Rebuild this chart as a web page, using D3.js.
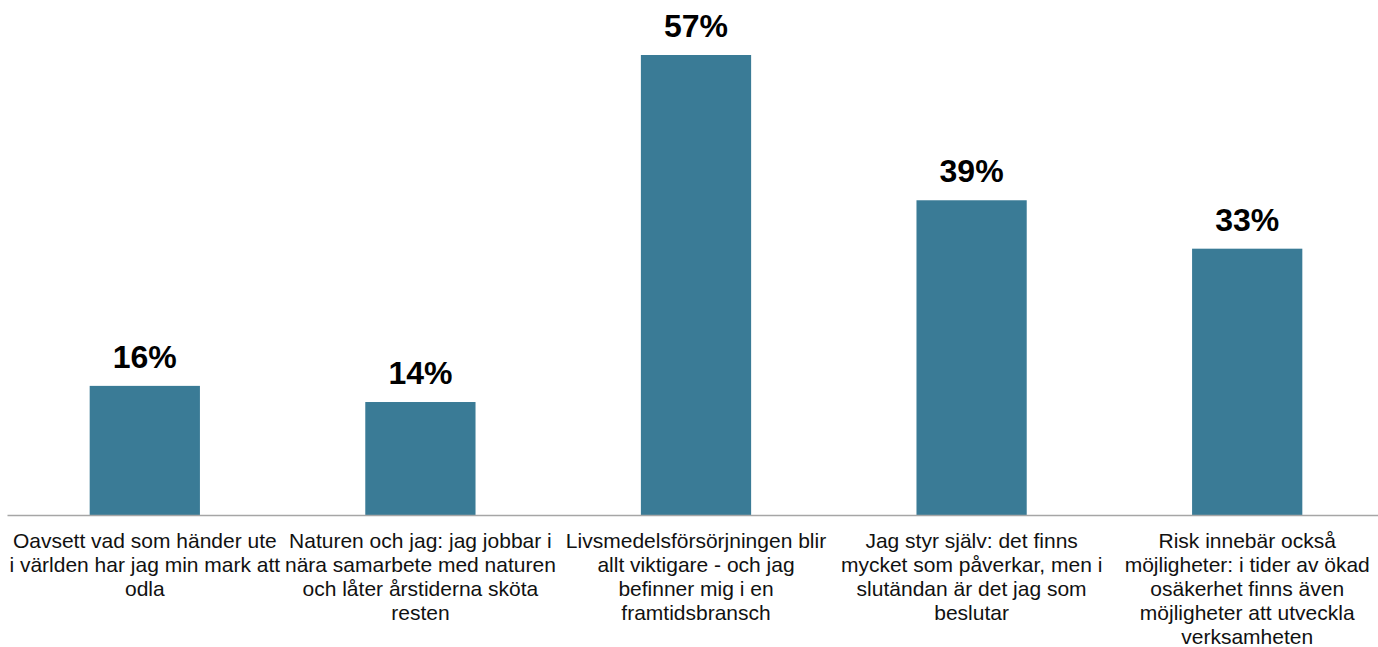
<!DOCTYPE html>
<html>
<head>
<meta charset="utf-8">
<script src="https://cdn.jsdelivr.net/npm/d3@7"></script>
<style>
  body { margin: 0; background: #fff; }
  svg { display: block; font-family: "Liberation Sans", Arial, sans-serif; }
</style>
</head>
<body>
<svg id="chart"></svg>
<script>
// categories, pre-split into the lines shown under each bar
var categories = [
  ["Oavsett vad som händer ute", "i världen har jag min mark att", "odla"],
  ["Naturen och jag: jag jobbar i", "nära samarbete med naturen", "och låter årstiderna sköta", "resten"],
  ["Livsmedelsförsörjningen blir", "allt viktigare - och jag", "befinner mig i en", "framtidsbransch"],
  ["Jag styr själv: det finns", "mycket som påverkar, men i", "slutändan är det jag som", "beslutar"],
  ["Risk innebär också", "möjligheter: i tider av ökad", "osäkerhet finns även", "möjligheter att utveckla", "verksamheten"]
];
var values = [16, 14, 57, 39, 33];   // procent

var width = 1378, height = 647;
var margin = {top: 55, right: -7, bottom: 132, left: 7};
var barColor = "#3a7b96";

var svg = d3.select("#chart")
  .attr("width", width)
  .attr("height", height);

var keys = d3.range(values.length);

var xScale = d3.scaleBand()
  .domain(keys)
  .range([margin.left, width - margin.right])
  .paddingInner(0.6)
  .paddingOuter(0.3);

var yScale = d3.scaleLinear()
  .domain([0, 57])
  .range([height - margin.bottom, margin.top]);

// bars
svg.append("g")
  .selectAll("rect")
  .data(values)
  .enter()
  .append("rect")
  .attr("x", function(d, i) { return xScale(i); })
  .attr("y", function(d) { return yScale(d); })
  .attr("width", xScale.bandwidth())
  .attr("height", function(d) { return yScale(0) - yScale(d); })
  .attr("fill", barColor);

// value labels
svg.append("g")
  .selectAll("text")
  .data(values)
  .enter()
  .append("text")
  .attr("x", function(d, i) { return xScale(i) + xScale.bandwidth() / 2; })
  .attr("y", function(d) { return yScale(d) - 18; })
  .attr("text-anchor", "middle")
  .attr("font-size", 32)
  .attr("font-weight", "bold")
  .attr("fill", "#000")
  .text(function(d) { return d + "%"; });

// x axis
var xAxis = d3.axisBottom(xScale)
  .tickSize(0)
  .tickFormat("");

var axisG = svg.append("g")
  .attr("transform", "translate(0," + yScale(0) + ")")
  .call(xAxis);
axisG.select(".domain").attr("stroke", "#a6a6a6").attr("stroke-width", 1.5);

// category labels, one tspan per line
axisG.selectAll(".tick").each(function(i) {
  var t = d3.select(this).append("text")
    .attr("text-anchor", "middle")
    .attr("fill", "#111")
    .attr("font-size", 21)
    .attr("y", 33);
  t.selectAll("tspan")
    .data(categories[i])
    .enter()
    .append("tspan")
    .attr("x", 0)
    .attr("dy", function(d, j) { return j === 0 ? 0 : 24; })
    .text(function(d) { return d; });
});
</script>
</body>
</html>
